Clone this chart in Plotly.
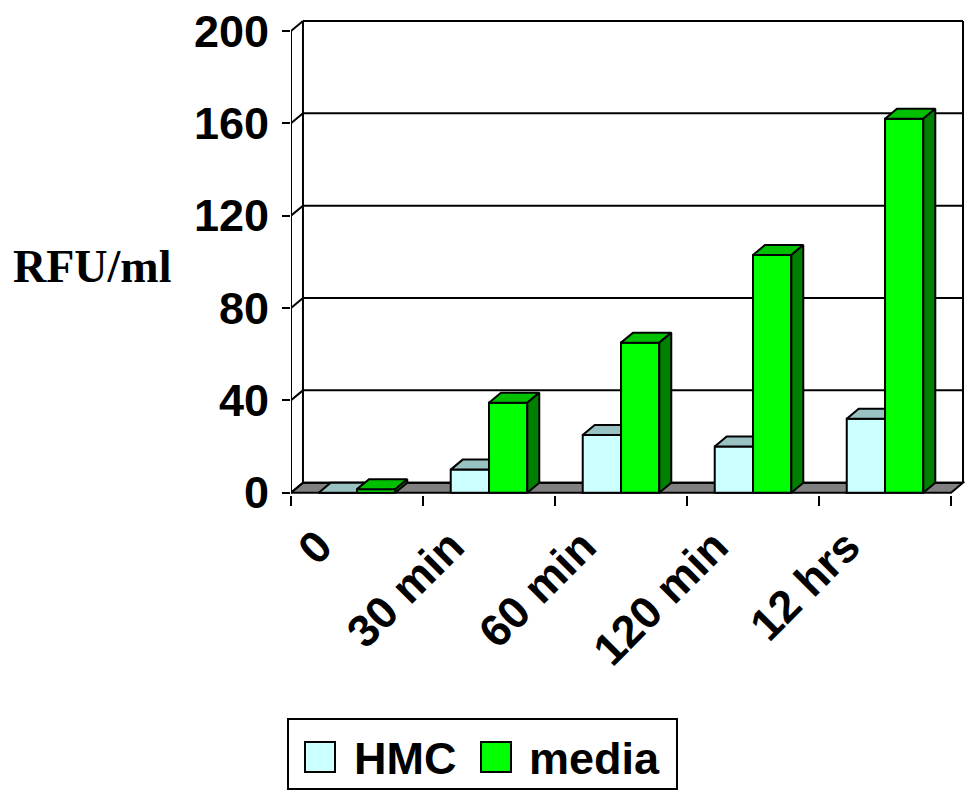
import plotly.graph_objects as go

# ---- data -------------------------------------------------------------
categories = ["0", "30 min", "60 min", "120 min", "12 hrs"]
hmc = [0, 10, 25, 20, 32]
media = [1.5, 39, 65, 103, 162]
y_ticks = [0, 40, 80, 120, 160, 200]
y_max = 200

# ---- geometry / style -------------------------------------------------
W, H = 967, 791
PLOT_L, PLOT_R, PLOT_T, PLOT_B = 291, 965, 18, 495
X_RANGE = [-0.5, 4.6058]
Y_RANGE = [-1.0, 205.63]
DX = 0.0907          # depth offset along x (category units)
DY = 4.33            # depth offset along y (value units)
BAR_W = 0.29

HMC_FRONT, HMC_TOP = "#CCFFFF", "#99C2C2"
MED_FRONT, MED_TOP, MED_SIDE = "#00FF00", "#00C000", "#008000"
FLOOR = "#808080"
LW = 2

SANS = "Liberation Sans, Arial, sans-serif"
SERIF = "Liberation Serif, Times New Roman, serif"
FS = 45


def px_x(p):
    return (p - PLOT_L) / (PLOT_R - PLOT_L)


def px_y(p):
    return (PLOT_B - p) / (PLOT_B - PLOT_T)


n = len(categories)
xs = list(range(n))
x_left, x_right = -0.5, n - 0.5

fig = go.Figure()

# ---- back wall, floor and front axis (drawn beneath the bars) --------
shapes = []
line = dict(color="black", width=LW)
# floor
shapes.append(dict(type="path", xref="x", yref="y", layer="below",
                   path=f"M{x_left},0 L{x_right},0 L{x_right + DX},{DY} L{x_left + DX},{DY} Z",
                   fillcolor=FLOOR, line=line))
# back-wall gridlines and the short depth connectors at each tick
for v in y_ticks:
    shapes.append(dict(type="line", xref="x", yref="y", layer="below",
                       x0=x_left + DX, x1=x_right + DX, y0=v + DY, y1=v + DY, line=line))
    shapes.append(dict(type="line", xref="x", yref="y", layer="below",
                       x0=x_left, x1=x_left + DX, y0=v, y1=v + DY, line=line))
# wall edges
shapes.append(dict(type="line", xref="x", yref="y", layer="below",
                   x0=x_left + DX, x1=x_left + DX, y0=DY, y1=y_max + DY, line=line))
shapes.append(dict(type="line", xref="x", yref="y", layer="below",
                   x0=x_right + DX, x1=x_right + DX, y0=DY, y1=y_max + DY, line=line))
# front value axis
shapes.append(dict(type="line", xref="x", yref="y", layer="below",
                   x0=x_left, x1=x_left, y0=0, y1=y_max, line=line))

# ---- bar front faces --------------------------------------------------
fig.add_trace(go.Bar(x=xs, y=hmc, width=BAR_W, offset=-BAR_W, name="HMC",
                     marker=dict(color=HMC_FRONT, line=dict(color="black", width=LW)),
                     showlegend=False, xaxis="x", yaxis="y"))
fig.add_trace(go.Bar(x=xs, y=media, width=BAR_W, offset=0, name="media",
                     marker=dict(color=MED_FRONT, line=dict(color="black", width=LW)),
                     showlegend=False, xaxis="x", yaxis="y"))


def poly(px, py, color):
    fig.add_trace(go.Scatter(x=px + [px[0]], y=py + [py[0]], mode="lines", fill="toself",
                             fillcolor=color, line=dict(color="black", width=LW),
                             hoverinfo="skip", showlegend=False))


# ---- tops and sides ---------------------------------------------------
for c, vh, vm in zip(xs, hmc, media):
    # HMC top, trimmed where the taller media bar hides it
    x0 = c - BAR_W
    h = min(vm, vh + DY)
    t = (vh + DY - h) / DY
    poly([x0, c, c, c + DX * t, x0 + DX],
         [vh, vh, h, vh + DY, vh + DY], HMC_TOP)
    # media top and right side
    x1 = c + BAR_W
    poly([c, x1, x1 + DX, c + DX], [vm, vm, vm + DY, vm + DY], MED_TOP)
    poly([x1, x1 + DX, x1 + DX, x1], [0, DY, vm + DY, vm], MED_SIDE)

# ---- legend (drawn by hand for the large swatches) --------------------
shapes.append(dict(type="rect", xref="paper", yref="paper",
                   x0=px_x(288), x1=px_x(677), y0=px_y(719), y1=px_y(789),
                   line=line, fillcolor="white"))
legend_items = [("HMC", HMC_FRONT, 305, 352), ("media", MED_FRONT, 481, 527)]
annotations = []
for label, color, sx, tx in legend_items:
    shapes.append(dict(type="rect", xref="paper", yref="paper",
                       x0=px_x(sx), x1=px_x(sx + 30), y0=px_y(742), y1=px_y(772),
                       line=line, fillcolor=color))
    annotations.append(dict(text=label, xref="paper", yref="paper",
                            x=px_x(tx), y=px_y(758), xanchor="left", yanchor="middle",
                            showarrow=False,
                            font=dict(family=SANS, size=FS, color="black", weight="bold")))

# value axis title
annotations.append(dict(text="RFU/ml", xref="paper", yref="paper",
                        x=px_x(11), y=px_y(266), xanchor="left", yanchor="middle",
                        showarrow=False,
                        font=dict(family=SERIF, size=46, color="black", weight="bold")))

fig.update_layout(
    template="none",
    width=W, height=H,
    margin=dict(l=PLOT_L, r=W - PLOT_R, t=PLOT_T, b=H - PLOT_B, autoexpand=False),
    paper_bgcolor="white", plot_bgcolor="white",
    barmode="overlay",
    showlegend=False,
    shapes=shapes,
    annotations=annotations,
    xaxis=dict(range=X_RANGE, showgrid=False, zeroline=False, showline=False,
               tickmode="array", tickvals=[i - 0.5 for i in range(n + 1)],
               showticklabels=False, ticks="outside", ticklen=10, tickwidth=LW,
               tickcolor="black", automargin=False, fixedrange=True),
    xaxis2=dict(range=X_RANGE, overlaying="x", anchor="y", side="bottom",
                showgrid=False, zeroline=False, showline=False,
                tickmode="array", tickvals=[i - 0.29 for i in xs], ticktext=categories,
                tickangle=-45, ticks="", ticklabelstandoff=15,
                tickfont=dict(family=SANS, size=FS, color="black", weight="bold"),
                automargin=False, fixedrange=True),
    yaxis=dict(range=Y_RANGE, showgrid=False, zeroline=False, showline=False,
               tickmode="array", tickvals=y_ticks, ticks="outside", ticklen=8,
               tickwidth=LW, tickcolor="black", ticklabelstandoff=4,
               tickfont=dict(family=SANS, size=FS, color="black", weight="bold"),
               automargin=False, fixedrange=True),
)

# invisible trace so the label axis is rendered
fig.add_trace(go.Scatter(x=xs, y=[None] * n, xaxis="x2", yaxis="y",
                         mode="markers", showlegend=False, hoverinfo="skip"))

fig.write_html("out.html", config={"displayModeBar": False})
